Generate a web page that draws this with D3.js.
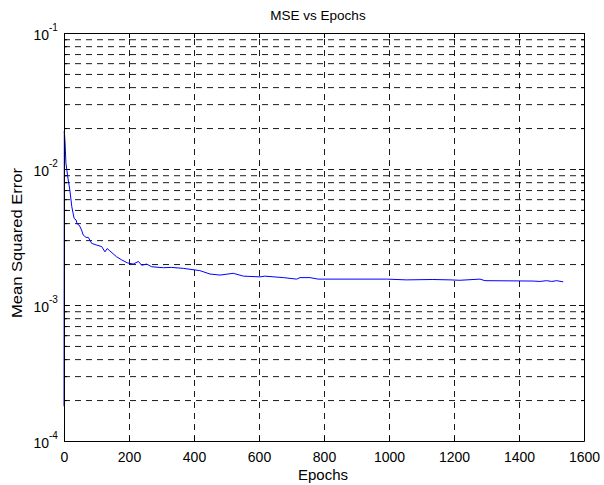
<!DOCTYPE html>
<html>
<head>
<meta charset="utf-8">
<script src="https://cdn.jsdelivr.net/npm/d3@7/dist/d3.min.js"></script>
<style>
  html, body { margin: 0; padding: 0; background: #fff; }
  svg { display: block; }
  text { font-family: "Liberation Sans", Arial, Helvetica, sans-serif; fill: #000; }
</style>
</head>
<body>
<svg id="chart" width="604" height="485"></svg>
<script>
// ---- data ----
const epochs = [0, 1, 3, 6, 13, 18, 24, 31, 37, 41, 47, 54, 59, 68, 75, 85, 100, 116, 126, 133, 141, 162, 177, 195, 213, 229, 239, 254, 270, 306, 330, 367, 418, 449, 480, 521, 552, 603, 618, 675, 716, 726, 757, 782, 880, 993, 1054, 1135, 1188, 1218, 1280, 1295, 1443, 1465, 1485, 1501, 1516, 1536];
const mse = [0.00018, 0.019, 0.016, 0.011, 0.0083, 0.0070, 0.00528, 0.00434, 0.00422, 0.00393, 0.00386, 0.00356, 0.00327, 0.00314, 0.00314, 0.00284, 0.00276, 0.00269, 0.00246, 0.00260, 0.00250, 0.00226, 0.00215, 0.00204, 0.00200, 0.00209, 0.00196, 0.00200, 0.00191, 0.00188, 0.00189, 0.00186, 0.00179, 0.00169, 0.00166, 0.00171, 0.00163, 0.00161, 0.00163, 0.00159, 0.00155, 0.00159, 0.00159, 0.00155, 0.00155, 0.00155, 0.00153, 0.00154, 0.00153, 0.00152, 0.00155, 0.00151, 0.00150, 0.00149, 0.00151, 0.00149, 0.00151, 0.00148];
const xTicks = [0, 200, 400, 600, 800, 1000, 1200, 1400, 1600];
const xTickLabels = ["0", "200", "400", "600", "800", "1000", "1200", "1400", "1600"];
const yMajorTicks = [1e-4, 1e-3, 1e-2, 1e-1];
const yTickExponents = ["-4", "-3", "-2", "-1"];
const yMinorMantissas = [2, 3, 4, 5, 6, 7, 8, 9];
const titleText = "MSE vs Epochs";
const xLabelText = "Epochs";
const yLabelText = "Mean Squared Error";

(function () {
// ---- layout ----
const L = 64, R = 584, T = 33, B = 441;
const svg = d3.select("#chart");
svg.append("rect").attr("width", 604).attr("height", 485).attr("fill", "#fff");

const x = d3.scaleLinear().domain([0, 1600]).range([L, R]);
const y = d3.scaleLog().domain([1e-4, 1e-1]).range([B, T]);

const yMinor = [];
yMajorTicks.slice(0, -1).forEach(d => yMinorMantissas.forEach(m => yMinor.push(d * m)));
const yAllGrid = yMajorTicks.concat(yMinor);

const dash = "6,5";

// grid lines via axes
const gx = svg.append("g").attr("transform", `translate(0,${B})`)
  .call(d3.axisBottom(x).tickValues(xTicks.slice(1, -1)).tickSize(-(B - T)).tickFormat(""));
gx.select(".domain").remove();
gx.selectAll("line").attr("stroke", "#000").attr("stroke-width", 0.9).attr("stroke-dasharray", dash);

const gy = svg.append("g").attr("transform", `translate(${L},0)`)
  .call(d3.axisLeft(y).tickValues(yAllGrid.filter(v => v > 1e-4 && v < 1e-1)).tickSize(-(R - L)).tickFormat(""));
gy.select(".domain").remove();
gy.selectAll("line").attr("stroke", "#000").attr("stroke-width", 0.9).attr("stroke-dasharray", dash);

// data line
const line = d3.line().x((d, i) => x(epochs[i])).y(d => y(d));
svg.append("path").datum(mse)
  .attr("d", line)
  .attr("fill", "none")
  .attr("stroke", "#0000ff")
  .attr("stroke-width", 1);

// box with inward ticks on all sides
function styleAxis(g) {
  g.select(".domain").attr("stroke", "#000").attr("stroke-width", 1);
  g.selectAll(".tick line").attr("stroke", "#000").attr("stroke-width", 1);
}
const axB = svg.append("g").attr("transform", `translate(0,${B})`)
  .call(d3.axisBottom(x).tickValues(xTicks).tickSizeInner(-5).tickSizeOuter(0).tickPadding(9)
    .tickFormat((d, i) => xTickLabels[i]));
styleAxis(axB);
axB.selectAll(".tick text").attr("font-size", 14).attr("dy", "0.71em").attr("y", 11);

const axT = svg.append("g").attr("transform", `translate(0,${T})`)
  .call(d3.axisTop(x).tickValues(xTicks).tickSizeInner(-5).tickSizeOuter(0).tickFormat(""));
styleAxis(axT);

const axL = svg.append("g").attr("transform", `translate(${L},0)`)
  .call(d3.axisLeft(y).tickValues(yMajorTicks).tickSizeInner(-5).tickSizeOuter(0).tickFormat(""));
styleAxis(axL);
const axLm = svg.append("g").attr("transform", `translate(${L},0)`)
  .call(d3.axisLeft(y).tickValues(yMinor).tickSizeInner(-3).tickSizeOuter(0).tickFormat(""));
styleAxis(axLm);
axLm.select(".domain").remove();

const axR = svg.append("g").attr("transform", `translate(${R},0)`)
  .call(d3.axisRight(y).tickValues(yMajorTicks).tickSizeInner(-5).tickSizeOuter(0).tickFormat(""));
styleAxis(axR);
const axRm = svg.append("g").attr("transform", `translate(${R},0)`)
  .call(d3.axisRight(y).tickValues(yMinor).tickSizeInner(-3).tickSizeOuter(0).tickFormat(""));
styleAxis(axRm);
axRm.select(".domain").remove();

// y tick labels 10^n
axL.selectAll(".tick").each(function(d, i) {
  d3.select(this).append("text")
    .attr("x", -15).attr("y", 0).attr("dy", "0.45em")
    .attr("text-anchor", "end").attr("font-size", 14)
    .text("10");
  d3.select(this).append("text")
    .attr("x", -15).attr("y", -3)
    .attr("text-anchor", "start").attr("font-size", 10)
    .text(yTickExponents[i]);
});

// titles
svg.append("text").attr("x", 318).attr("y", 20).attr("text-anchor", "middle")
  .attr("font-size", 13.5).text(titleText);
svg.append("text").attr("x", 323).attr("y", 480).attr("text-anchor", "middle")
  .attr("font-size", 14).attr("textLength", 50).attr("lengthAdjust", "spacingAndGlyphs")
  .text(xLabelText);
svg.append("text").attr("transform", "translate(22,243) rotate(-90)")
  .attr("text-anchor", "middle").attr("font-size", 14)
  .attr("textLength", 150).attr("lengthAdjust", "spacingAndGlyphs")
  .text(yLabelText);
})();
</script>
</body>
</html>
